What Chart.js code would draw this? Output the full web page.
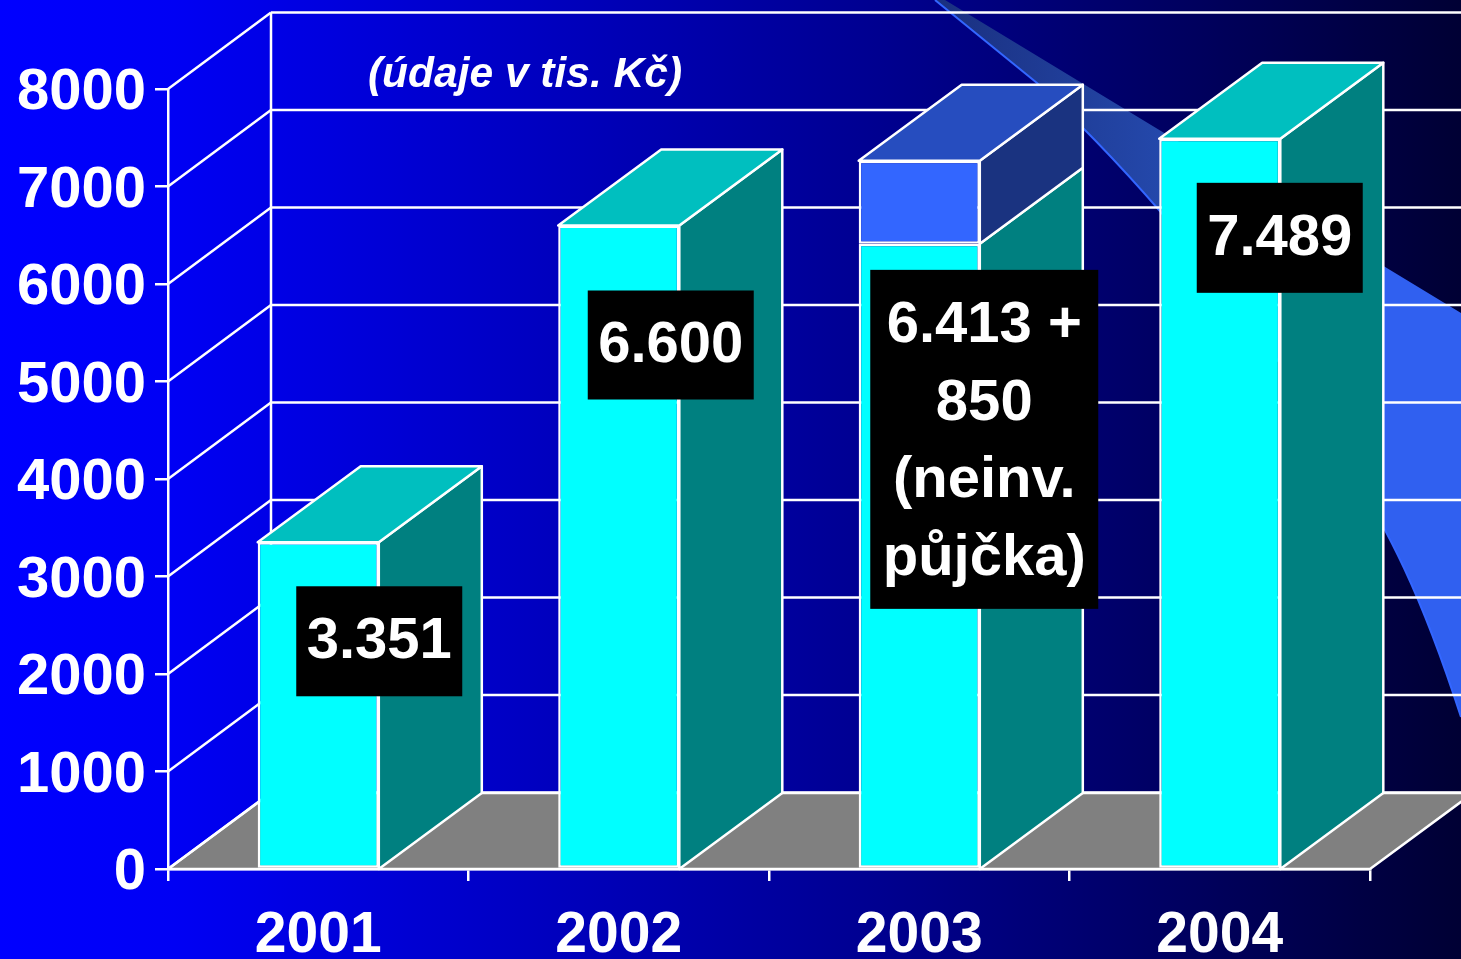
<!DOCTYPE html>
<html lang="cs">
<head>
<meta charset="utf-8">
<title>Graf</title>
<style>html,body{margin:0;padding:0;background:#00f;overflow:hidden}canvas{display:block}</style>
<script src="https://cdn.jsdelivr.net/npm/chart.js@4"></script>
</head>
<body>
<canvas id="c" width="1461" height="959"></canvas>
<script>
const categories = ['2001', '2002', '2003', '2004'];
const baseValues = [3351, 6600, 6413, 7489];
const extraValues = [null, null, 850, null];
const yTicks = [0, 1000, 2000, 3000, 4000, 5000, 6000, 7000, 8000];
const valueLabels = [['3.351'], ['6.600'], ['6.413 +', '850', '(neinv.', 'půjčka)'], ['7.489']];
const noteText = '(údaje v tis. Kč)';

const FONT = '"Liberation Sans", Arial, sans-serif';
const DX = 103, DY = -76, LW = 2.5;
const baseColors = { front: '#00ffff', top: '#00bfbf', side: '#008080' };
const extraColors = { front: '#3366ff', top: '#264dbf', side: '#1a3380' };
// label box placement relative to the top of each bar's stack / its category centre
const boxes = [
  { cx: 61, top: 44, w: 166, h: 110, dy: 1 },
  { cx: 52, top: 65, w: 166, h: 109, dy: 1 },
  { cx: 65, top: 109, w: 228, h: 339, dy: 3 },
  { cx: 60, top: 44, w: 166, h: 110, dy: 1 }
];

function poly(ctx, pts, fill, stroke) {
  ctx.beginPath();
  pts.forEach((p, i) => i ? ctx.lineTo(p[0], p[1]) : ctx.moveTo(p[0], p[1]));
  ctx.closePath();
  if (fill) { ctx.fillStyle = fill; ctx.fill(); }
  if (stroke) { ctx.strokeStyle = '#fff'; ctx.lineWidth = LW; ctx.lineJoin = 'round'; ctx.stroke(); }
}
function seg(ctx, x1, y1, x2, y2) {
  ctx.beginPath(); ctx.moveTo(x1, y1); ctx.lineTo(x2, y2);
  ctx.strokeStyle = '#fff'; ctx.lineWidth = LW; ctx.stroke();
}

const backdrop = {
  id: 'backdrop',
  beforeDraw(chart) {
    const ctx = chart.ctx, W = chart.width, H = chart.height;
    const g = ctx.createLinearGradient(0, 0, W, 0);
    g.addColorStop(0, '#0000ff');
    g.addColorStop(0.12, '#0000f4');
    g.addColorStop(0.6, '#000090');
    g.addColorStop(1, '#000034');
    ctx.save();
    ctx.fillStyle = g; ctx.fillRect(0, 0, W, H);
    // decorative swoosh
    const s = ctx.createLinearGradient(940, 0, 1384, 0);
    s.addColorStop(0, '#1a3080');
    s.addColorStop(0.5, '#2448ab');
    s.addColorStop(1, '#3060f0');
    ctx.beginPath();
    ctx.moveTo(945, 0);
    ctx.lineTo(1461, 313);
    ctx.lineTo(1461, 717);
    ctx.bezierCurveTo(1420, 590, 1390, 535, 1340, 450);
    ctx.bezierCurveTo(1270, 345, 1180, 225, 1080, 125);
    ctx.lineTo(1037, 83);
    ctx.lineTo(935, 0);
    ctx.closePath();
    ctx.fillStyle = s; ctx.fill();
    ctx.beginPath();
    ctx.moveTo(935, 0);
    ctx.lineTo(1037, 83);
    ctx.lineTo(1080, 125);
    ctx.bezierCurveTo(1180, 225, 1270, 345, 1340, 450);
    ctx.bezierCurveTo(1390, 535, 1420, 590, 1461, 717);
    ctx.strokeStyle = '#3366ff'; ctx.lineWidth = 2; ctx.stroke();
    ctx.restore();
  },
  beforeDatasetsDraw(chart) {
    const ctx = chart.ctx, y = chart.scales.y, x = chart.scales.x;
    const L = x.left, R = x.right, y0 = y.getPixelForValue(0);
    ctx.save();
    // floor
    poly(ctx, [[L, y0], [L + DX, y0 + DY], [R + DX, y0 + DY], [R, y0]], '#808080', true);
    // walls
    yTicks.forEach(v => {
      const py = y.getPixelForValue(v), by = py + DY - 0.5;
      seg(ctx, L, py, L + DX, by);
      seg(ctx, L + DX, by, R + DX, by);
    });
    seg(ctx, L + DX, y.getPixelForValue(8000) + DY, L + DX, y0 + DY);
    // depth faces of the bars
    const m0 = chart.getDatasetMeta(0);
    categories.forEach((c, i) => {
      const el = m0.data[i];
      const xl = el.x - el.width / 2, xr = el.x + el.width / 2;
      const a = baseValues[i], b = extraValues[i];
      const ya = y.getPixelForValue(a);
      poly(ctx, [[xr, y0], [xr + DX, y0 + DY], [xr + DX, ya + DY], [xr, ya]], baseColors.side, true);
      let topY = ya, col = baseColors;
      if (b !== null) {
        topY = y.getPixelForValue(a + b); col = extraColors;
        poly(ctx, [[xr, ya], [xr + DX, ya + DY], [xr + DX, topY + DY], [xr, topY]], extraColors.side, true);
      }
      poly(ctx, [[xl, topY], [xl + DX, topY + DY], [xr + DX, topY + DY], [xr, topY]], col.top, true);
    });
    ctx.restore();
  },
  afterDraw(chart) {
    const ctx = chart.ctx, y = chart.scales.y, x = chart.scales.x;
    ctx.save();
    ctx.textAlign = 'center';
    ctx.textBaseline = 'middle';
    categories.forEach((c, i) => {
      const b = boxes[i];
      const stackTop = y.getPixelForValue(baseValues[i] + (extraValues[i] || 0));
      const cx = x.getPixelForValue(i) + b.cx, top = stackTop + b.top;
      ctx.fillStyle = '#000';
      ctx.fillRect(cx - b.w / 2, top, b.w, b.h);
      ctx.fillStyle = '#fff';
      ctx.font = 'bold 58px ' + FONT;
      const lines = valueLabels[i], lh = 77.5;
      lines.forEach((t, k) => {
        ctx.fillText(t, cx, top + b.h / 2 + b.dy + (k - (lines.length - 1) / 2) * lh);
      });
    });
    ctx.font = 'italic bold 42.5px ' + FONT;
    ctx.textBaseline = 'alphabetic';
    ctx.fillStyle = '#fff';
    ctx.fillText(noteText, 525, 87);
    ctx.restore();
  }
};

new Chart(document.getElementById('c'), {
  type: 'bar',
  data: {
    labels: categories,
    datasets: [
      { label: 'Investice', data: baseValues, backgroundColor: baseColors.front },
      { label: 'Neinvestiční půjčka', data: extraValues, backgroundColor: extraColors.front }
    ]
  },
  options: {
    responsive: false,
    animation: false,
    devicePixelRatio: 1,
    layout: { autoPadding: false, padding: { top: 89, right: 91, left: 0, bottom: 0 } },
    datasets: { bar: { borderColor: '#fff', borderWidth: 2.5, borderSkipped: false, categoryPercentage: 1, barPercentage: 0.403 } },
    plugins: { legend: { display: false }, tooltip: { enabled: false }, title: { display: false } },
    scales: {
      x: {
        stacked: true,
        afterFit: s => { s.height = 90; },
        grid: { drawOnChartArea: false, color: '#fff', lineWidth: 2.5, tickLength: 12, offset: true },
        border: { color: '#fff', width: 2.5 },
        ticks: { color: '#fff', font: { family: FONT, size: 57, weight: 'bold' }, padding: 21, maxRotation: 0 }
      },
      y: {
        stacked: true,
        min: 0,
        max: 8000,
        afterFit: s => { s.width = 168; },
        afterBuildTicks: s => { s.ticks = yTicks.map(v => ({ value: v })); },
        grid: { drawOnChartArea: false, color: '#fff', lineWidth: 2.5, tickLength: 13 },
        border: { color: '#fff', width: 2.5 },
        ticks: { color: '#fff', font: { family: FONT, size: 58, weight: 'bold' }, padding: 9, labelOffset: 4, callback: v => String(v) }
      }
    }
  },
  plugins: [backdrop]
});
</script>
</body>
</html>
